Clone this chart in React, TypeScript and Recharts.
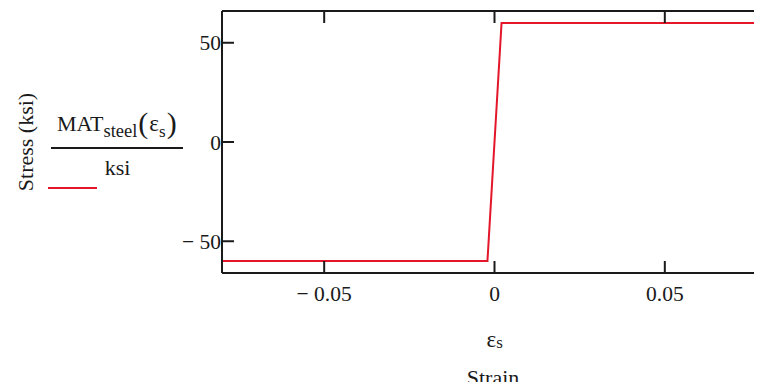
import React from 'react';
import { LineChart, Line, XAxis, YAxis } from 'recharts';

const strainValues = [-0.08, -0.00207, 0.00207, 0.08];
const stressValues = [-60, -60, 60, 60];
const xTicks = [-0.05, 0, 0.05];
const yTicks = [-50, 0, 50];
const xDomain = [-0.08, 0.08];
const yDomain = [-66, 66];

const data = strainValues.map((s, i) => ({ strain: s, stress: stressValues[i] }));

const FONT = '"Liberation Serif", "Times New Roman", serif';
const INK = '#1a1a1a';
const RED = '#e3162a';

const fmt = (v: number) => (v < 0 ? `\u2212 ${Math.abs(v)}` : `${v}`);
const blank = () => '';

const XLabel = (props: any) => {
  const vb = props.viewBox || { x: 214, y: 265, width: 546, height: 117 };
  const cx = vb.x + vb.width / 2;
  return (
    <g fontFamily={FONT} fill={INK}>
      <text x={cx - 8} y={339} fontSize={23} textAnchor="start">
        ε<tspan fontSize={17} dy={1}>s</tspan>
      </text>
      <text x={cx - 1.5} y={377} fontSize={22} textAnchor="middle">
        Strain
      </text>
    </g>
  );
};

const YLabel = () => (
  <text
    x={24.5}
    y={134}
    transform="rotate(-90, 24.5, 134)"
    textAnchor="middle"
    fontFamily={FONT}
    fontSize={22}
    fill={INK}
  >
    Stress (ksi)
  </text>
);

export default function App() {
  const axisLine = { stroke: INK, strokeWidth: 2 };
  const tickStyle = { fill: INK, fontSize: 21.5, fontFamily: FONT };
  return (
    <div style={{ position: 'relative', width: 754, height: 382, overflow: 'hidden', marginBottom: -8 }}>
      <LineChart width={780} height={382} data={data} margin={{ top: 2, right: 20, bottom: 0, left: 0 }}>
        <XAxis
          xAxisId="b"
          dataKey="strain"
          type="number"
          domain={xDomain}
          ticks={xTicks}
          allowDataOverflow
          tickFormatter={fmt}
          tickSize={-12}
          tickMargin={25}
          height={117}
          axisLine={axisLine}
          tickLine={axisLine}
          tick={tickStyle}
          label={{ content: XLabel }}
        />
        <XAxis
          xAxisId="t"
          orientation="top"
          dataKey="strain"
          type="number"
          domain={xDomain}
          ticks={xTicks}
          allowDataOverflow
          tickFormatter={blank}
          tickSize={-12}
          height={1}
          axisLine={axisLine}
          tickLine={axisLine}
          tick={tickStyle}
        />
        <YAxis
          yAxisId="l"
          type="number"
          domain={yDomain}
          ticks={yTicks}
          allowDataOverflow
          tickFormatter={fmt}
          tickSize={-12}
          tickMargin={13}
          width={214}
          axisLine={axisLine}
          tickLine={axisLine}
          tick={tickStyle}
          label={{ content: YLabel }}
        />
        <YAxis
          yAxisId="r"
          orientation="right"
          type="number"
          domain={yDomain}
          ticks={yTicks}
          allowDataOverflow
          tickFormatter={blank}
          tickSize={-12}
          width={1}
          axisLine={axisLine}
          tickLine={axisLine}
          tick={tickStyle}
        />
        <Line
          xAxisId="b"
          yAxisId="l"
          type="linear"
          dataKey="stress"
          stroke={RED}
          strokeWidth={2}
          dot={false}
          isAnimationActive={false}
        />
      </LineChart>
      <svg
        width={200}
        height={200}
        style={{ position: 'absolute', left: 0, top: 0, pointerEvents: 'none' }}
      >
        <g fontFamily={FONT} fill={INK}>
          <text x={49} y={122.7} fontSize={22}>
            MAT
            <tspan fontSize={18.5} dy={6}>steel</tspan>
            <tspan fontSize={30} dy={-4} dx={1}>(</tspan>
            <tspan fontSize={23} dy={-2} dx={1}>ε</tspan>
            <tspan fontSize={17} dy={6}>s</tspan>
            <tspan fontSize={30} dy={-4} dx={1}>)</tspan>
          </text>
          <line x1={43} x2={175} y1={140} y2={140} stroke={INK} strokeWidth={2} />
          <text x={109.5} y={167} fontSize={22} textAnchor="middle">
            ksi
          </text>
        </g>
        <line x1={40} x2={89} y1={180} y2={180} stroke={RED} strokeWidth={2} />
      </svg>
    </div>
  );
}
